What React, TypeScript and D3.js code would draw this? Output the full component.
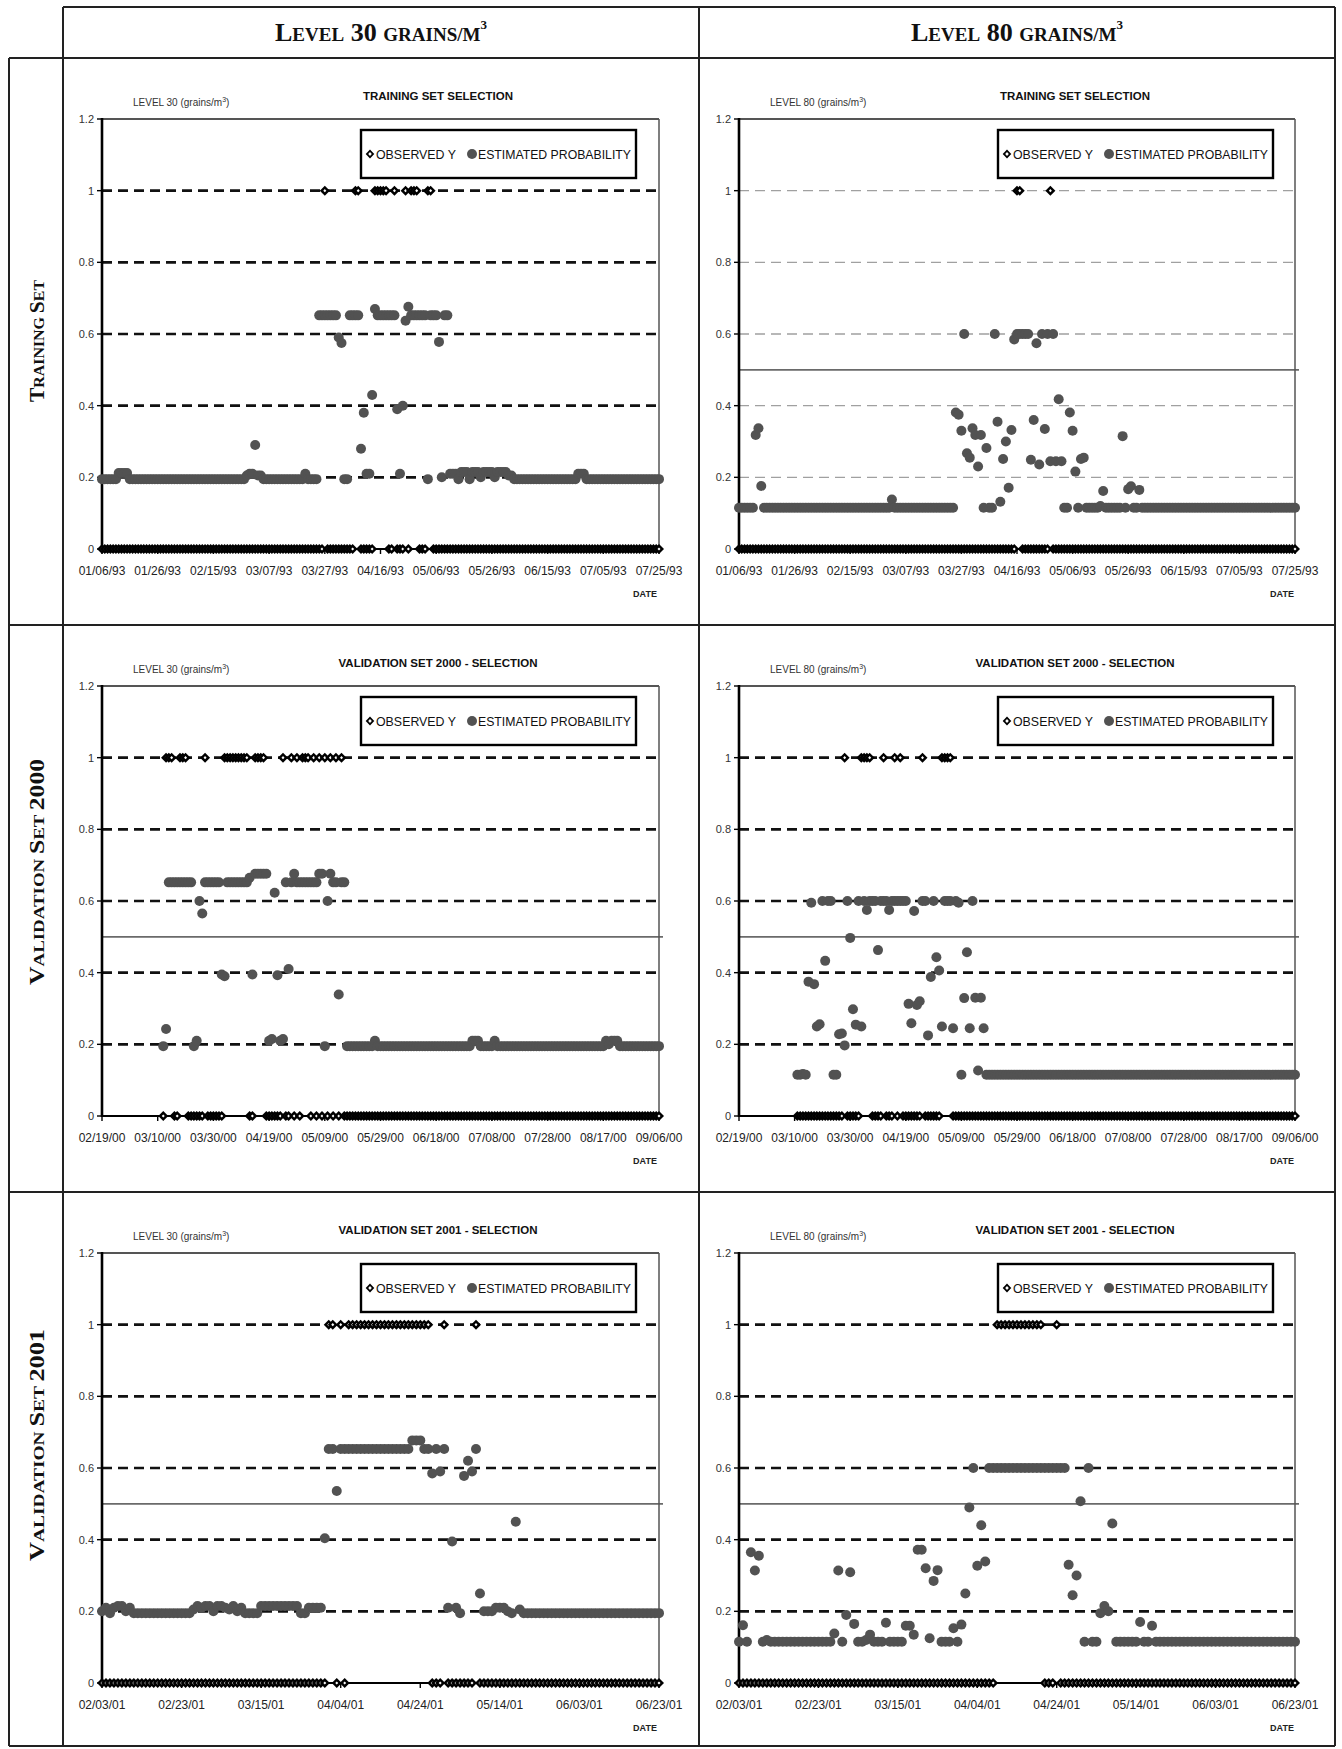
import React from "react";
import * as d3 from "d3";

const W = 1342;
const H = 1749;

// ---------- tick labels ----------
const ticks93 = ["01/06/93","01/26/93","02/15/93","03/07/93","03/27/93","04/16/93","05/06/93","05/26/93","06/15/93","07/05/93","07/25/93"];
const ticks00 = ["02/19/00","03/10/00","03/30/00","04/19/00","05/09/00","05/29/00","06/18/00","07/08/00","07/28/00","08/17/00","09/06/00"];
const ticks01 = ["02/03/01","02/23/01","03/15/01","04/04/01","04/24/01","05/14/01","06/03/01","06/23/01"];
const yTicks = [0, 0.2, 0.4, 0.6, 0.8, 1, 1.2];
const gridValues = [0.2, 0.4, 0.6, 0.8, 1];

// ---------- headers ----------
const colHeaders = [
  { big1: "L", small1: "EVEL", big2: " 30 ", small2: "GRAINS/M", sup: "3" },
  { big1: "L", small1: "EVEL", big2: " 80 ", small2: "GRAINS/M", sup: "3" },
];
const rowHeaders = [
  [["T", "big"], ["RAINING ", "small"], ["S", "big"], ["ET", "small"]],
  [["V", "big"], ["ALIDATION ", "small"], ["S", "big"], ["ET ", "small"], ["2000", "big"]],
  [["V", "big"], ["ALIDATION ", "small"], ["S", "big"], ["ET ", "small"], ["2001", "big"]],
];

// ---------- data: estimated probability, segments [first day index, value] ----------
const estTrain30 = [[0,0.195],[6,0.212],[10,0.195],[52,0.205],[53,0.21],[55,0.29],[56,0.205],[58,0.195],[73,0.21],[74,0.195],[78,0.652],[85,0.59],[86,0.575],[87,0.195],[89,0.652],[93,0.28],[94,0.38],[95,0.21],[97,0.43],[98,0.67],[99,0.652],[106,0.39],[107,0.21],[108,0.4],[109,0.637],[110,0.676],[111,0.652],[117,0.195],[118,0.652],[121,0.578],[122,0.2],[123,0.652],[125,0.21],[128,0.195],[129,0.215],[132,0.195],[133,0.215],[136,0.2],[137,0.215],[141,0.2],[142,0.215],[146,0.205],[148,0.195],[171,0.21],[174,0.195]];
const estTrain80 = [[0,0.115],[6,0.318],[7,0.337],[8,0.176],[9,0.115],[55,0.138],[56,0.115],[78,0.381],[79,0.375],[80,0.33],[81,0.6],[82,0.267],[83,0.255],[84,0.337],[85,0.318],[86,0.23],[87,0.318],[88,0.115],[89,0.282],[90,0.115],[92,0.6],[93,0.355],[94,0.132],[95,0.251],[96,0.3],[97,0.171],[98,0.332],[99,0.585],[100,0.6],[105,0.249],[106,0.36],[107,0.574],[108,0.236],[109,0.6],[110,0.335],[111,0.6],[112,0.245],[113,0.6],[114,0.245],[115,0.418],[116,0.245],[117,0.115],[119,0.381],[120,0.33],[121,0.216],[122,0.115],[123,0.251],[124,0.255],[125,0.115],[130,0.12],[131,0.162],[132,0.115],[138,0.315],[139,0.115],[140,0.167],[141,0.175],[142,0.115],[144,0.165],[145,0.115]];
const estVal00L30 = [[22,0.195],[23,0.243],[24,0.652],[33,0.195],[34,0.21],[35,0.6],[36,0.565],[37,0.652],[43,0.395],[44,0.39],[45,0.652],[53,0.665],[54,0.395],[55,0.676],[60,0.21],[61,0.215],[62,0.623],[63,0.393],[64,0.21],[65,0.215],[66,0.652],[67,0.41],[68,0.652],[69,0.676],[70,0.652],[78,0.676],[80,0.195],[81,0.6],[82,0.676],[83,0.652],[85,0.339],[86,0.652],[88,0.195],[98,0.21],[99,0.195],[133,0.21],[136,0.195],[141,0.21],[142,0.195],[181,0.21],[182,0.2],[183,0.21],[186,0.195]];
const estVal00L80 = [[21,0.115],[23,0.117],[24,0.115],[25,0.375],[26,0.595],[27,0.368],[28,0.25],[29,0.256],[30,0.6],[31,0.433],[32,0.6],[34,0.115],[36,0.228],[37,0.23],[38,0.197],[39,0.6],[40,0.497],[41,0.298],[42,0.255],[43,0.6],[44,0.25],[45,0.6],[46,0.575],[47,0.6],[50,0.463],[51,0.6],[54,0.575],[55,0.6],[61,0.313],[62,0.259],[63,0.572],[64,0.31],[65,0.32],[66,0.6],[68,0.225],[69,0.388],[70,0.6],[71,0.443],[72,0.406],[73,0.25],[74,0.6],[77,0.245],[78,0.6],[79,0.595],[80,0.115],[81,0.329],[82,0.457],[83,0.245],[84,0.6],[85,0.33],[86,0.127],[87,0.33],[88,0.245],[89,0.115]];
const estVal01L30 = [[0,0.2],[1,0.21],[2,0.195],[3,0.21],[4,0.215],[6,0.2],[7,0.21],[8,0.195],[23,0.205],[24,0.215],[25,0.21],[26,0.215],[28,0.2],[29,0.215],[31,0.21],[32,0.205],[33,0.215],[34,0.2],[35,0.21],[36,0.195],[40,0.215],[50,0.195],[52,0.21],[56,0.404],[57,0.653],[59,0.536],[60,0.653],[78,0.677],[81,0.653],[83,0.585],[84,0.653],[85,0.59],[86,0.653],[87,0.21],[88,0.395],[89,0.21],[90,0.195],[91,0.578],[92,0.62],[93,0.59],[94,0.653],[95,0.25],[96,0.2],[99,0.21],[102,0.2],[103,0.195],[104,0.45],[105,0.205],[106,0.195]];
const estVal01L80 = [[0,0.115],[1,0.161],[2,0.115],[3,0.365],[4,0.314],[5,0.355],[6,0.115],[7,0.12],[8,0.115],[24,0.138],[25,0.314],[26,0.115],[27,0.19],[28,0.309],[29,0.165],[30,0.115],[32,0.12],[33,0.135],[34,0.115],[37,0.168],[38,0.115],[42,0.16],[44,0.135],[45,0.372],[47,0.32],[48,0.125],[49,0.285],[50,0.315],[51,0.115],[54,0.153],[55,0.115],[56,0.163],[57,0.25],[58,0.49],[59,0.6],[60,0.327],[61,0.44],[62,0.339],[63,0.6],[83,0.33],[84,0.245],[85,0.3],[86,0.507],[87,0.115],[88,0.6],[89,0.115],[91,0.195],[92,0.215],[93,0.2],[94,0.445],[95,0.115],[101,0.17],[102,0.115],[104,0.16],[105,0.115]];

// ---------- data: observed Y, day indices where Y = 1 (all other recorded days are 0) ----------
const obsTrain30Ones = [80,91,92,98,99,100,101,102,105,109,111,112,113,117,118];
const obsTrain80Ones = [100,101,112];
const obsVal00L30Ones = [23,24,25,28,29,30,37,44,45,46,47,48,49,50,51,52,55,56,57,58,65,68,70,72,73,74,76,78,80,82,84,86];
const obsVal00L80Ones = [38,44,45,46,47,52,56,58,66,73,74,75,76];
const obsVal01L30Ones = [57,58,60,62,63,64,65,66,67,68,69,70,71,72,73,74,75,76,77,78,79,80,81,82,86,94];
const obsVal01L80Ones = [65,66,67,68,69,70,71,72,73,74,75,76,80];
const firstDays = [0, 0, 22, 21, 0, 0];

const panels = [
  { row: 0, col: 0, level: "30", title: "TRAINING SET SELECTION", ticks: ticks93, est: estTrain30, ones: obsTrain30Ones, first: firstDays[0], threshold: false, light: false },
  { row: 0, col: 1, level: "80", title: "TRAINING SET SELECTION", ticks: ticks93, est: estTrain80, ones: obsTrain80Ones, first: firstDays[1], threshold: true, light: true },
  { row: 1, col: 0, level: "30", title: "VALIDATION SET 2000 - SELECTION", ticks: ticks00, est: estVal00L30, ones: obsVal00L30Ones, first: firstDays[2], threshold: true, light: false },
  { row: 1, col: 1, level: "80", title: "VALIDATION SET 2000 - SELECTION", ticks: ticks00, est: estVal00L80, ones: obsVal00L80Ones, first: firstDays[3], threshold: true, light: false },
  { row: 2, col: 0, level: "30", title: "VALIDATION SET 2001 - SELECTION", ticks: ticks01, est: estVal01L30, ones: obsVal01L30Ones, first: firstDays[4], threshold: true, light: false },
  { row: 2, col: 1, level: "80", title: "VALIDATION SET 2001 - SELECTION", ticks: ticks01, est: estVal01L80, ones: obsVal01L80Ones, first: firstDays[5], threshold: true, light: false },
];

// ---------- layout ----------
const rowTops = [58, 625, 1192];
const tableBottom = 1746;
const colLines = [9, 63, 699, 1335];
const plotLefts = [102, 739];
const plotRights = [659, 1295];
const rowLabelCenters = [341, 872, 1445];
const rowLabelLengths = [122, 226, 232];
const SANS = "'Liberation Sans', Arial, Helvetica, sans-serif";
const SERIF = "'Liberation Serif', 'Times New Roman', serif";
const EST_COLOR = "#525252";

const parse = d3.timeParse("%m/%d/%y");

function expandSegments(segs: number[][], lastDay: number) {
  const out: { day: number; v: number }[] = [];
  segs.forEach((s, i) => {
    const end = i + 1 < segs.length ? segs[i + 1][0] - 1 : lastDay;
    for (let d = s[0]; d <= end; d++) out.push({ day: d, v: s[1] });
  });
  return out;
}

const diamond = (w: number, h: number) => `M0,${-h}L${w},0L0,${h}L${-w},0Z`;

function Panel({ p }: { p: any }) {
  const L = plotLefts[p.col];
  const R = plotRights[p.col];
  const rowTop = rowTops[p.row];
  const top = rowTop + 61;
  const bottom = rowTop + 491;
  const tickDates = p.ticks.map((t: string) => parse(t) as Date);
  const start = tickDates[0];
  const end = tickDates[tickDates.length - 1];
  const nDays = d3.timeDay.count(start, end);
  const x = d3.scaleTime().domain([start, end]).range([L, R]);
  const y = d3.scaleLinear().domain([0, 1.2]).range([bottom, top]);
  const dayX = (d: number) => x(d3.timeDay.offset(start, d));

  const est = expandSegments(p.est, nDays);
  const obs: { day: number; v: number }[] = [];
  for (let d = p.first; d <= nDays; d++) obs.push({ day: d, v: p.ones.includes(d) ? 1 : 0 });

  const gridStroke = p.light ? "#a0a0a0" : "#111";
  const gridWidth = p.light ? 1.4 : 2.6;
  const legY = top + 35;

  return (
    <g>
      {/* gridlines */}
      {gridValues.map((g) => (
        <line key={g} x1={L} x2={R} y1={y(g)} y2={y(g)} stroke={gridStroke} strokeWidth={gridWidth} strokeDasharray="10,6" />
      ))}
      {p.threshold && <line x1={L} x2={R + 4} y1={y(0.5)} y2={y(0.5)} stroke="#6a6a6a" strokeWidth={1.8} />}
      {/* plot border */}
      <line x1={L} x2={R} y1={top} y2={top} stroke="#555" strokeWidth={1.8} />
      <line x1={R} x2={R} y1={top} y2={bottom} stroke="#555" strokeWidth={1.5} />
      {/* axes */}
      <line x1={L} x2={L} y1={top - 1} y2={bottom + 1} stroke="#000" strokeWidth={2.6} />
      <line x1={L} x2={R} y1={bottom} y2={bottom} stroke="#000" strokeWidth={2} />
      {yTicks.map((t) => (
        <g key={t}>
          <line x1={L - 5} x2={L} y1={y(t)} y2={y(t)} stroke="#000" strokeWidth={1.4} />
          <text x={L - 8} y={y(t) + 4} textAnchor="end" fontSize={11} fill="#333">{String(t)}</text>
        </g>
      ))}
      {tickDates.map((d: Date, i: number) => (
        <g key={i}>
          <line x1={x(d)} x2={x(d)} y1={bottom} y2={bottom + 5} stroke="#000" strokeWidth={1.4} />
          <text x={x(d)} y={bottom + 26} textAnchor="middle" fontSize={12} fill="#222">{p.ticks[i]}</text>
        </g>
      ))}
      <text x={L + 543} y={bottom + 48} textAnchor="middle" fontSize={9} fontWeight="bold" fill="#222">DATE</text>
      {/* observed Y: black diamond with a small white centre */}
      {obs.map((o) => (
        <g key={"o" + o.day} transform={`translate(${dayX(o.day)},${y(o.v)})`}>
          <path d={diamond(5, 5)} fill="#000" />
          <path d={diamond(1.5, 1.6)} fill="#fff" />
        </g>
      ))}
      {/* estimated probability */}
      {est.map((e) => (
        <circle key={"e" + e.day} cx={dayX(e.day)} cy={y(e.v)} r={5} fill={EST_COLOR} />
      ))}
      {/* legend */}
      <rect x={L + 259} y={top + 11} width={275} height={48} fill="#fff" stroke="#000" strokeWidth={2.4} />
      <g transform={`translate(${L + 268},${legY})`}>
        <path d={diamond(4.3, 4.6)} fill="#000" />
        <path d={diamond(1.8, 1.9)} fill="#fff" />
      </g>
      <text x={L + 274} y={legY + 5} fontSize={13.5} fill="#111" textLength={80} lengthAdjust="spacingAndGlyphs">OBSERVED Y</text>
      <circle cx={L + 370} cy={legY} r={5} fill={EST_COLOR} />
      <text x={L + 376} y={legY + 5} fontSize={13.5} fill="#111" textLength={153} lengthAdjust="spacingAndGlyphs">ESTIMATED PROBABILITY</text>
      {/* labels */}
      <text x={L + 31} y={top - 13} fontSize={10} fill="#333">
        {`LEVEL ${p.level} (grains/m`}
        <tspan fontSize={7} dy={-4}>3</tspan>
        <tspan dy={4}>)</tspan>
      </text>
      <text x={L + 336} y={top - 19} textAnchor="middle" fontSize={11.5} fontWeight="bold" fill="#111">{p.title}</text>
    </g>
  );
}

function Table() {
  const right = colLines[3];
  return (
    <g stroke="#222" strokeWidth={2} fill="none">
      <line x1={colLines[1]} x2={right} y1={7} y2={7} />
      {[rowTops[0], rowTops[1], rowTops[2], tableBottom].map((yy) => (
        <line key={yy} x1={colLines[0]} x2={right} y1={yy} y2={yy} />
      ))}
      <line x1={colLines[0]} x2={colLines[0]} y1={rowTops[0]} y2={tableBottom} />
      {colLines.slice(1).map((xx) => (
        <line key={xx} x1={xx} x2={xx} y1={7} y2={tableBottom} />
      ))}
    </g>
  );
}

export default function App() {
  const colCenters = [(colLines[1] + colLines[2]) / 2, (colLines[2] + colLines[3]) / 2];
  return (
    <svg width={W} height={H} style={{ position: "absolute", left: 0, top: 0 }} fontFamily={SANS}>
      <rect width={W} height={H} fill="#fff" />
      <Table />
      {colHeaders.map((h, i) => (
        <text key={i} x={colCenters[i]} y={41} textAnchor="middle" fontFamily={SERIF} fontWeight="bold" fontSize={26} fill="#111" textLength={212} lengthAdjust="spacingAndGlyphs">
          <tspan>{h.big1}</tspan>
          <tspan fontSize={19}>{h.small1}</tspan>
          <tspan>{h.big2}</tspan>
          <tspan fontSize={19}>{h.small2}</tspan>
          <tspan fontSize={13} dy={-12}>{h.sup}</tspan>
        </text>
      ))}
      {rowHeaders.map((parts, i) => (
        <text key={i} transform={`translate(44,${rowLabelCenters[i]}) rotate(-90)`} textAnchor="middle" fontFamily={SERIF} fontWeight="bold" fontSize={21} fill="#111" textLength={rowLabelLengths[i]} lengthAdjust="spacingAndGlyphs">
          {parts.map((pt, j) => (
            <tspan key={j} fontSize={pt[1] === "big" ? 21 : 15.5}>{pt[0]}</tspan>
          ))}
        </text>
      ))}
      {panels.map((p, i) => (
        <Panel key={i} p={p} />
      ))}
    </svg>
  );
}
